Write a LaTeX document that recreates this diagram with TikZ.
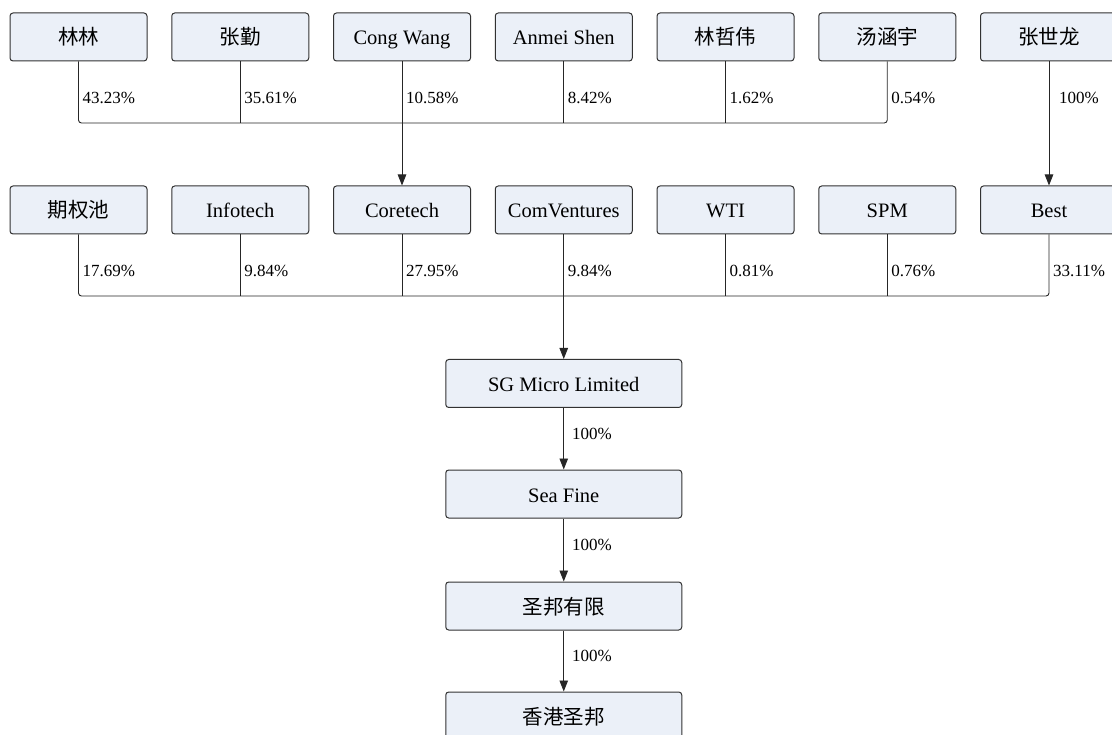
\documentclass[tikz,border=0pt]{standalone}
\usepackage{fontspec}
\setmainfont{Liberation Serif}
\newfontfamily\cjk{Noto Sans CJK SC}
\usetikzlibrary{arrows.meta}
\definecolor{boxfill}{RGB}{235,240,248}
\definecolor{boxdraw}{RGB}{50,50,50}
\tikzset{
  ent/.style={draw=boxdraw, fill=boxfill, line width=1pt, rounded corners=3pt,
    minimum width=137pt, minimum height=48pt, inner sep=0pt,
    text height=18pt, text depth=2pt,
    font=\fontsize{20.5}{24}\selectfont},
  wideent/.style={ent, minimum width=236pt},
  pct/.style={anchor=west, inner sep=0pt, font=\fontsize{17}{20}\selectfont},
  link/.style={draw=black!85, line width=0.9pt},
  arr/.style={link, -{Triangle[length=11pt,width=8.5pt]}},
}
\begin{document}
\begin{tikzpicture}[x=1pt,y=-1pt]
\useasboundingbox (0,0) rectangle (1112,735);
% top row
\node[ent] (a1) at (78.5,37) {\cjk 林林};
\node[ent] (a2) at (240.25,37) {\cjk 张勤};
\node[ent] (a3) at (402,37) {Cong Wang};
\node[ent] (a4) at (563.75,37) {Anmei Shen};
\node[ent] (a5) at (725.5,37) {\cjk 林哲伟};
\node[ent] (a6) at (887.25,37) {\cjk 汤涵宇};
\node[ent] (a7) at (1049,37) {\cjk 张世龙};
% second row
\node[ent] (b1) at (78.5,210) {\cjk 期权池};
\node[ent] (b2) at (240.25,210) {Infotech};
\node[ent] (b3) at (402,210) {Coretech};
\node[ent] (b4) at (563.75,210) {ComVentures};
\node[ent] (b5) at (725.5,210) {WTI};
\node[ent] (b6) at (887.25,210) {SPM};
\node[ent] (b7) at (1049,210) {Best};
% chain
\node[wideent] (c1) at (563.75,383.5) {SG Micro Limited};
\node[wideent] (c2) at (563.75,494) {Sea Fine};
\node[wideent] (c3) at (563.75,606) {\cjk 圣邦有限};
\node[wideent] (c4) at (563.75,716) {\cjk 香港圣邦};
% hubs
\coordinate (h1) at (402,123);
\coordinate (h2) at (563.75,296);
% top row connectors
\draw[link, rounded corners=3pt] (a1.south) |- (h1) -| (a6.south);
\foreach \n in {a2,a4,a5} \draw[link] (\n.south) -- (\n.south |- h1);
\draw[arr] (a3.south) -- (b3.north);
\draw[arr] (a7.south) -- (b7.north);
% second row connectors
\draw[link, rounded corners=3pt] (b1.south) |- (h2) -| (b7.south);
\foreach \n in {b2,b3,b5,b6} \draw[link] (\n.south) -- (\n.south |- h2);
\draw[arr] (b4.south) -- (c1.north);
\draw[arr] (c1.south) -- (c2.north);
\draw[arr] (c2.south) -- (c3.north);
\draw[arr] (c3.south) -- (c4.north);
% labels
\node[pct] (p1) at (82.5,98) {43.23\%};
\node[pct] (p2) at (244.25,98) {35.61\%};
\node[pct] (p3) at (406,98) {10.58\%};
\node[pct] (p4) at (567.75,98) {8.42\%};
\node[pct] (p5) at (729.5,98) {1.62\%};
\node[pct] (p6) at (891.25,98) {0.54\%};
\node[pct] (p7) at (1059,98) {100\%};
\node[pct] (q1) at (82.5,271) {17.69\%};
\node[pct] (q2) at (244.25,271) {9.84\%};
\node[pct] (q3) at (406,271) {27.95\%};
\node[pct] (q4) at (567.75,271) {9.84\%};
\node[pct] (q5) at (729.5,271) {0.81\%};
\node[pct] (q6) at (891.25,271) {0.76\%};
\node[pct] (q7) at (1053,271) {33.11\%};
\node[pct] (r1) at (572,434) {100\%};
\node[pct] (r2) at (572,545) {100\%};
\node[pct] (r3) at (572,656) {100\%};
\end{tikzpicture}
\end{document}
